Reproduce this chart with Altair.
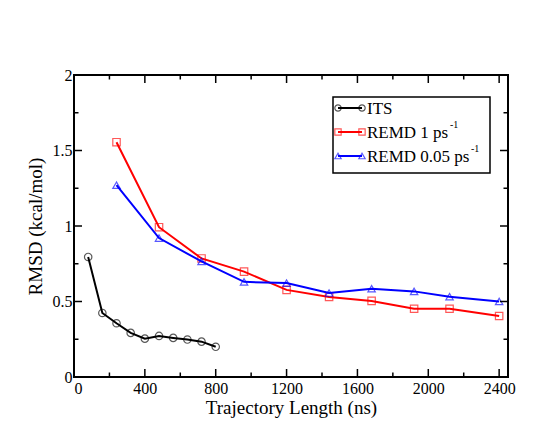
import altair as alt
import pandas as pd

# ---- data ----
its_x = [80, 160, 240, 320, 400, 480, 560, 640, 720, 800]
its_y = [0.795, 0.424, 0.356, 0.292, 0.254, 0.272, 0.259, 0.248, 0.234, 0.200]

remd_x = [240, 480, 720, 960, 1200, 1440, 1680, 1920, 2120, 2400]
remd1_y = [1.555, 0.992, 0.785, 0.698, 0.577, 0.530, 0.504, 0.452, 0.452, 0.404]
remd005_y = [1.270, 0.920, 0.765, 0.630, 0.622, 0.556, 0.585, 0.567, 0.532, 0.500]

series_names = ["ITS", "REMD 1 ps", "REMD 0.05 ps"]
series_colors = ["#000000", "#ff0000", "#0000ff"]
series_shapes = ["circle", "square", "triangle-up"]

x_major = [0, 400, 800, 1200, 1600, 2000, 2400]
x_minor = [200, 600, 1000, 1400, 1800, 2200]
y_major = [0, 0.5, 1, 1.5, 2]
y_minor = [0.25, 0.75, 1.25, 1.75]

W, H = 434, 302
FONT = "Liberation Serif"

xs = alt.Scale(domain=[0, 2450], nice=False, zero=False)
ys = alt.Scale(domain=[0, 2], nice=False, zero=False)

frames = []
for name, xv, yv in [(series_names[0], its_x, its_y),
                     (series_names[1], remd_x, remd1_y),
                     (series_names[2], remd_x, remd005_y)]:
    frames.append(pd.DataFrame({"series": name, "x": xv, "y": yv}))
df = pd.concat(frames, ignore_index=True)

xenc = alt.X("x:Q", scale=xs,
             axis=alt.Axis(values=x_major, title="Trajectory Length (ns)", format="d",
                           ticks=False, domain=False, grid=False,
                           labelFont=FONT, titleFont=FONT,
                           labelPadding=3, titlePadding=2,
                           labelFontSize=16, titleFontSize=19))
yenc = alt.Y("y:Q", scale=ys,
             axis=alt.Axis(values=y_major, title="RMSD (kcal/mol)",
                           labelExpr="format(datum.value, '~g')",
                           ticks=False, domain=False, grid=False,
                           labelFont=FONT, titleFont=FONT,
                           labelPadding=2, titlePadding=7,
                           labelFontSize=16, titleFontSize=19))

layers = []
for name, col, shp in zip(series_names, series_colors, series_shapes):
    sub = df[df["series"] == name]
    base = alt.Chart(sub)
    layers.append(base.mark_line(color=col, strokeWidth=2).encode(x=xenc, y=yenc))
    layers.append(base.mark_point(color=col, shape=shp, filled=False, size=55,
                                  strokeWidth=1.2, opacity=0.65).encode(x="x:Q", y="y:Q"))

# inward ticks on all four sides
def tick_rules(vals, axis, length):
    d = pd.DataFrame({"v": vals})
    out = []
    if axis == "x":
        out.append(alt.Chart(d).mark_rule(color="black", strokeWidth=1.5).encode(
            x=alt.X("v:Q", scale=xs), y=alt.value(H), y2=alt.value(H - length)))
        out.append(alt.Chart(d).mark_rule(color="black", strokeWidth=1.5).encode(
            x=alt.X("v:Q", scale=xs), y=alt.value(0), y2=alt.value(length)))
    else:
        out.append(alt.Chart(d).mark_rule(color="black", strokeWidth=1.5).encode(
            y=alt.Y("v:Q", scale=ys), x=alt.value(0), x2=alt.value(length)))
        out.append(alt.Chart(d).mark_rule(color="black", strokeWidth=1.5).encode(
            y=alt.Y("v:Q", scale=ys), x=alt.value(W), x2=alt.value(W - length)))
    return out

ticks = (tick_rules(x_major, "x", 8) + tick_rules(x_minor, "x", 4.5)
         + tick_rules(y_major, "y", 8) + tick_rules(y_minor, "y", 4.5))

# legend box
one = pd.DataFrame({"k": [0]})
leg = [alt.Chart(one).mark_rect(fill="white", stroke="black", strokeWidth=1.5).encode(
    x=alt.value(259), x2=alt.value(416), y=alt.value(22), y2=alt.value(98))]
row_y = [33, 57, 81]
sup_x = [None, 376, 397]
for name, col, shp, ry, sx in zip(series_names, series_colors, series_shapes, row_y, sup_x):
    leg.append(alt.Chart(one).mark_rule(color=col, strokeWidth=2).encode(
        x=alt.value(264), x2=alt.value(288), y=alt.value(ry)))
    for px in (264, 288):
        leg.append(alt.Chart(one).mark_point(color=col, shape=shp, filled=False, size=40,
                                             strokeWidth=1.2, opacity=0.65).encode(
            x=alt.value(px), y=alt.value(ry)))
    leg.append(alt.Chart(one).mark_text(font=FONT, fontSize=17, align="left",
                                        baseline="middle", color="black").encode(
        x=alt.value(293), y=alt.value(ry + 1), text=alt.value(name)))
    if sx is not None:
        leg.append(alt.Chart(one).mark_text(font=FONT, fontSize=10, align="left",
                                            baseline="middle", color="black").encode(
            x=alt.value(sx), y=alt.value(ry - 7), text=alt.value("-1")))

chart = alt.layer(*layers, *ticks, *leg).properties(
    width=W, height=H,
    autosize=alt.AutoSizeParams(type="none"),
    padding={"left": 66, "top": 67, "right": 42, "bottom": 54},
    background="white",
).configure(font=FONT).configure_view(stroke="black", strokeWidth=2).configure_axis(
    labelFont=FONT, titleFont=FONT, labelColor="black", titleColor="black",
    titleFontWeight="normal")

chart.save("out.html", embed_options={"renderer": "svg", "actions": False})
